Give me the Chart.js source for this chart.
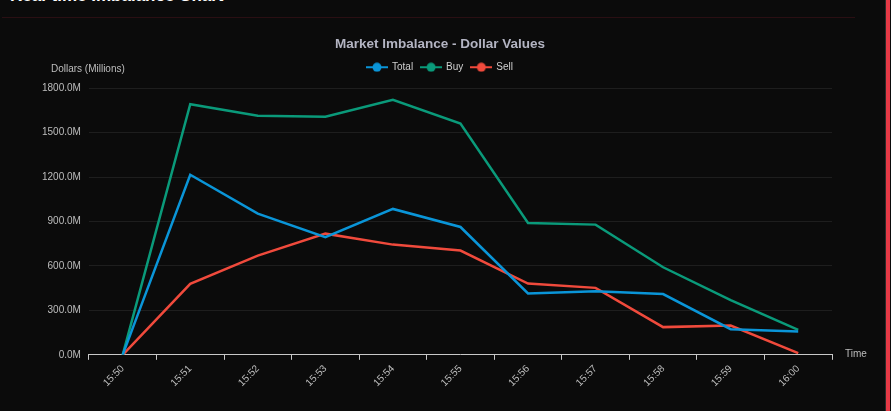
<!DOCTYPE html>
<html>
<head>
<meta charset="utf-8">
<script src="https://cdn.jsdelivr.net/npm/chart.js@4.4.1/dist/chart.umd.min.js"></script>
<style>
    html, body { margin: 0; padding: 0; background: #0b0b0b; overflow: hidden; }
    body { width: 891px; height: 411px; position: relative; font-family: 'Liberation Sans', Arial, sans-serif; }
    .header { position: absolute; left: 10px; top: -14px; color: #fff; font-size: 17px; font-weight: 600; }
    .divider { position: absolute; left: 2px; top: 17px; width: 853px; height: 1px; background: #2a0f13; }
    .edge { position: absolute; right: 1px; top: 0; width: 4px; height: 411px; background: #e63946; border-left: 1px solid #2b2b2b; }
    .chart-wrap { position: absolute; left: 10px; top: 26px; width: 862px; height: 382px; }
</style>
</head>
<body>
<div class="header">Real-time Imbalance Chart</div>
<div class="divider"></div>
<div class="edge"></div>
<div class="chart-wrap"><canvas id="imbalanceChart"></canvas></div>
<script>
const timeLabels = ['15:50', '15:51', '15:52', '15:53', '15:54', '15:55', '15:56', '15:57', '15:58', '15:59', '16:00'];
const totalValues = [0, 1216, 953, 794, 985, 863, 414, 430, 410, 173, 158];
const buyValues = [0, 1692, 1614, 1607, 1722, 1562, 890, 879, 591, 369, 169];
const sellValues = [0, 479, 670, 818, 744, 704, 481, 452, 187, 198, 12];
const yAxisTitle = 'Dollars (Millions)';
const xAxisTitle = 'Time';

// small line + dot swatch for the legend
function legendSwatch(color) {
    const c = document.createElement('canvas');
    c.width = 22;
    c.height = 10;
    const g = c.getContext('2d');
    g.strokeStyle = color;
    g.lineWidth = 2;
    g.beginPath();
    g.moveTo(0, 5);
    g.lineTo(22, 5);
    g.stroke();
    g.fillStyle = color;
    g.beginPath();
    g.arc(11, 5, 4.5, 0, Math.PI * 2);
    g.fill();
    return c;
}

const axisText = {
    id: 'axisText',
    afterDraw(chart) {
        const { ctx, chartArea } = chart;
        ctx.save();
        ctx.font = '10px "Liberation Sans", Arial, sans-serif';
        ctx.fillStyle = '#bdbdbd';
        ctx.textAlign = 'left';
        ctx.textBaseline = 'middle';
        ctx.fillText(yAxisTitle, chartArea.left - 38, chartArea.top - 19);
        ctx.fillText(xAxisTitle, chartArea.right + 13, chartArea.bottom - 1);
        ctx.restore();
    }
};

// a little extra room under the legend
const legendGap = {
    id: 'legendGap',
    beforeInit(chart) {
        const fit = chart.legend.fit;
        chart.legend.fit = function () {
            fit.bind(chart.legend)();
            this.height += 6;
        };
    }
};

const ctx = document.getElementById('imbalanceChart').getContext('2d');
const imbalanceChart = new Chart(ctx, {
    type: 'line',
    data: {
        labels: timeLabels,
        datasets: [{
            label: 'Total',
            data: totalValues,
            borderColor: '#0a95d8',
            backgroundColor: '#0a95d8',
            borderWidth: 2.5,
            pointRadius: 0,
            tension: 0
        }, {
            label: 'Buy',
            data: buyValues,
            borderColor: '#0a9a7a',
            backgroundColor: '#0a9a7a',
            borderWidth: 2.5,
            pointRadius: 0,
            tension: 0
        }, {
            label: 'Sell',
            data: sellValues,
            borderColor: '#f04a3c',
            backgroundColor: '#f04a3c',
            borderWidth: 2.5,
            pointRadius: 0,
            tension: 0
        }]
    },
    options: {
        responsive: true,
        maintainAspectRatio: false,
        animation: false,
        layout: { padding: { left: 38, right: 40, top: 0, bottom: 16 } },
        plugins: {
            title: {
                display: true,
                text: 'Market Imbalance - Dollar Values',
                color: '#b3b4c2',
                font: { size: 13.5, weight: 'bold' },
                padding: { top: 10, bottom: 2 }
            },
            legend: {
                labels: {
                    color: '#cfcfcf',
                    font: { size: 10 },
                    usePointStyle: true,
                    pointStyleWidth: 20,
                    boxHeight: 10,
                    padding: 8,
                    generateLabels(chart) {
                        return chart.data.datasets.map((ds, i) => ({
                            text: ds.label,
                            fillStyle: ds.borderColor,
                            strokeStyle: ds.borderColor,
                            fontColor: '#cfcfcf',
                            pointStyle: legendSwatch(ds.borderColor),
                            hidden: !chart.isDatasetVisible(i),
                            datasetIndex: i
                        }));
                    }
                }
            },
            tooltip: { enabled: false }
        },
        scales: {
            x: {
                offset: true,
                border: { color: '#c8c8c8' },
                grid: {
                    offset: true,
                    drawOnChartArea: false,
                    drawTicks: true,
                    tickLength: 5,
                    color: '#c8c8c8'
                },
                ticks: {
                    color: '#bdbdbd',
                    font: { size: 10 },
                    maxRotation: 45,
                    minRotation: 45
                }
            },
            y: {
                min: 0,
                max: 1800,
                border: { display: false },
                afterFit(scale) {
                    // narrower box, labels may spill into the padding
                    scale.width -= 14;
                    scale._computeLabelArea = () => undefined;
                },
                grid: {
                    color: 'rgba(255, 255, 255, 0.08)',
                    drawTicks: false
                },
                ticks: {
                    stepSize: 300,
                    color: '#bdbdbd',
                    font: { size: 10 },
                    padding: 8,
                    callback: (v) => v.toFixed(1) + 'M'
                }
            }
        }
    },
    plugins: [axisText, legendGap]
});
</script>
</body>
</html>
